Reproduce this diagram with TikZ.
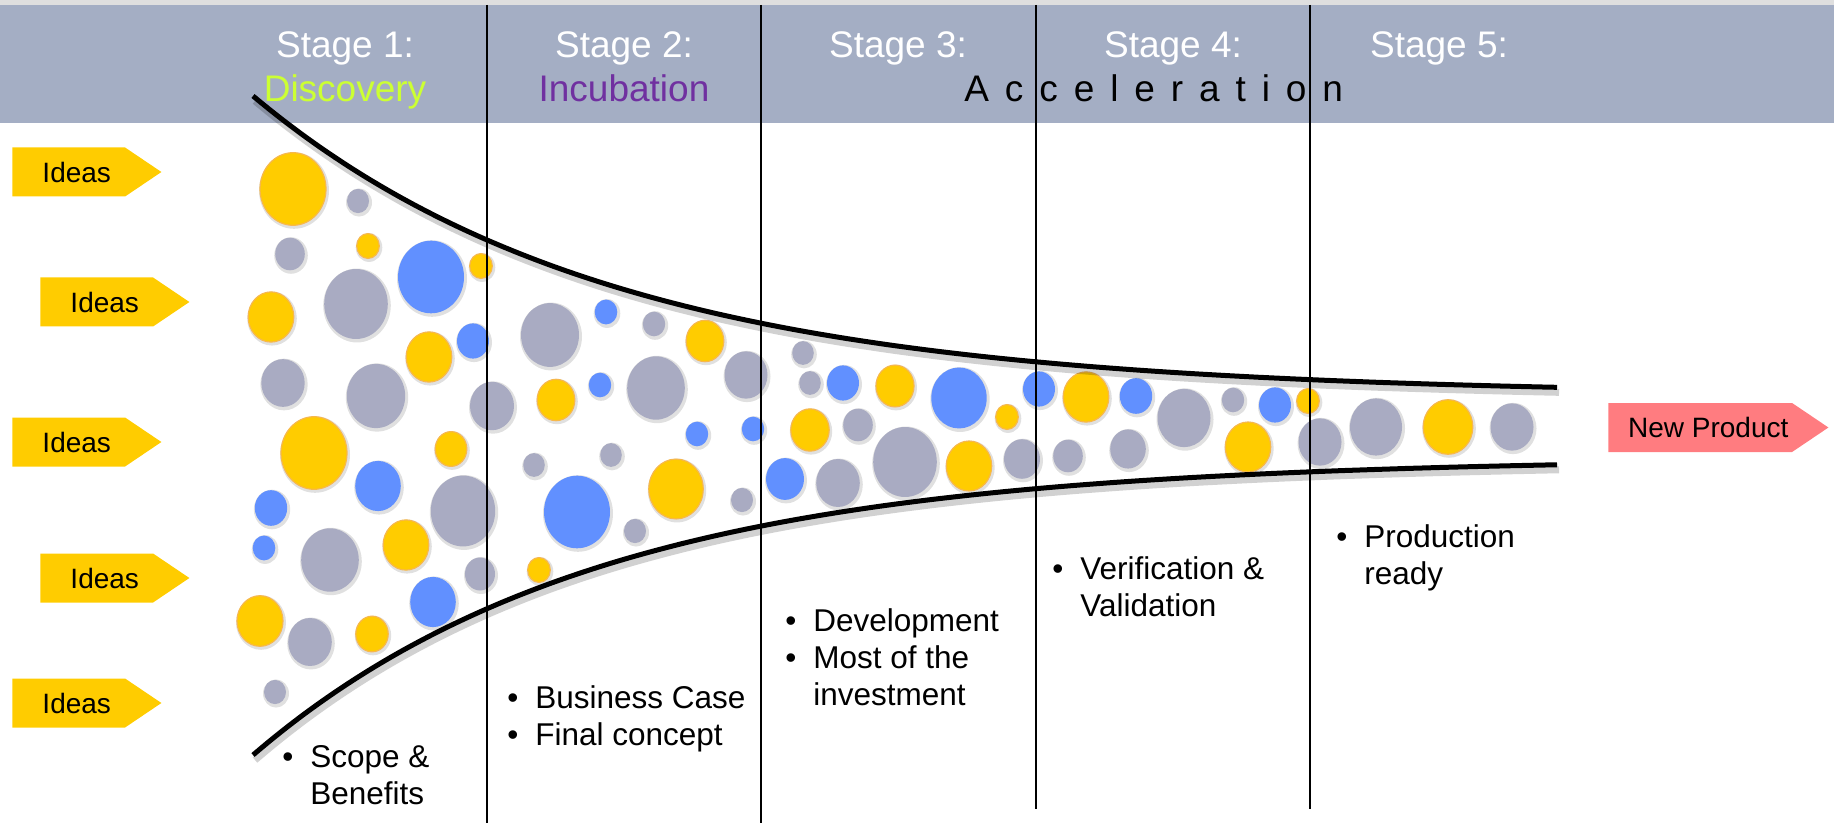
\documentclass[tikz,border=0pt]{standalone}
\usepackage{fontspec}
\setmainfont{Liberation Sans}
\usetikzlibrary{shapes.symbols}

\definecolor{band}{HTML}{A4AEC4}
\definecolor{discovery}{HTML}{CCFF33}
\definecolor{incubation}{HTML}{7030A0}
\definecolor{ideayellow}{HTML}{FFCC00}
\definecolor{productred}{HTML}{FF7C80}
\definecolor{bubrim}{HTML}{F7B84B}
\definecolor{bubgray}{HTML}{A9ABC2}
\definecolor{bubblue}{HTML}{6190FF}

\newcommand{\bul}{\textbullet}

\begin{document}
\begin{tikzpicture}[x=0.5pt, y=-0.5pt,
  stagehead/.style={anchor=base, inner sep=0pt, text=white, font=\fontsize{18.5}{20}\selectfont},
  ideas/.style={signal, signal to=east, signal pointer angle=68, fill=ideayellow, minimum width=74.5pt, minimum height=24.5pt, inner sep=0pt, anchor=west, font=\fontsize{14}{16}\selectfont, execute at begin node=\hspace*{8pt}},
  notes/.style={anchor=base west, inner sep=0pt, font=\fontsize{15.75}{18.7}\selectfont},
  stageline/.style={line width=0.75pt},
  funnel/.style={line width=2.5pt, preaction={draw=black, opacity=0.18, line width=3.5pt, transform canvas={shift={(1pt,-2.5pt)}}}},
  bubshadow/.style={fill=black, opacity=0.12},
  ybub/.style={fill=ideayellow, draw=bubrim, line width=0.6pt},
  gbub/.style={fill=bubgray},
  bbub/.style={fill=bubblue}]
\useasboundingbox (0,0) rectangle (1834,823);

% header band
\fill[gray!25] (0,0) rectangle (1834,5);
\fill[band] (0,5) rectangle (1834,123);

\node[stagehead] (st1) at (345,58) {Stage 1:};
\node[stagehead, text=discovery] (ph1) at (345,102) {Discovery};
\node[stagehead] (st2) at (624,58) {Stage 2:};
\node[stagehead, text=incubation] (ph2) at (624,102) {Incubation};
\node[stagehead] (st3) at (898,58) {Stage 3:};
\node[stagehead] (st4) at (1173,58) {Stage 4:};
\node[stagehead] (st5) at (1439,58) {Stage 5:};
\node[stagehead, anchor=base west, text=black] (ph3) at (964,102) {\addfontfeature{LetterSpace=43}Acceleration};

% ideas going in
\node[ideas] (i1) at (12,172) {Ideas};
\node[ideas] (i2) at (40,302) {Ideas};
\node[ideas] (i3) at (12,442) {Ideas};
\node[ideas] (i4) at (40,578) {Ideas};
\node[ideas] (i5) at (12,703) {Ideas};
\node[ideas, fill=productred, minimum width=110pt] (np) at (1608,427.5) {New Product};

% bubbles
\foreach \x/\y/\r in {293/189/33, 368/246/11.3, 481/266/11.3, 271/317/22.8, 429/357/22.8, 314/453/33, 451/449/15.8, 406/545/22.8, 260/621/23, 372/634/16.2, 705/341/18.8, 556/400/18.8, 676/489/27.2, 539/570/11.3, 895/386/19, 1007/417/11.3, 810/430/19.2, 969/466/22.7, 1086/397/22.8, 1308/401/11.3, 1248/447/22.7, 1448/427/24.8} {
  \fill[bubshadow] (\x+1,\y+1.5) ellipse [x radius=\r+2, y radius=1.1*\r+2];
  \filldraw[ybub] (\x,\y) ellipse [x radius=\r, y radius=1.1*\r];
}
\foreach \x/\y/\r in {358/201/11, 290/254/14.8, 356/304/31.8, 283/383/21.7, 376/396/29.2, 492/406/22, 463/511/32.2, 330/560/28.8, 480/574/15, 310/642/21.8, 275/692/11, 550/335/29, 654/324/11.2, 656/388/28.8, 746/375/21.5, 534/465/10.8, 611/455/10.8, 635/531/11, 742/500/11, 803/353/10.8, 810/383/10.8, 858/425/14.8, 905/462/31.8, 1022/459/18, 838/483/21.8, 1184/418/26.5, 1233/400/11.2, 1068/456/14.8, 1128/449/17.8, 1320/442/21.5, 1376/427/26, 1512/427/21.5} {
  \fill[bubshadow] (\x+1,\y+1.5) ellipse [x radius=\r+2, y radius=1.1*\r+2];
  \fill[gbub] (\x,\y) ellipse [x radius=\r, y radius=1.1*\r];
}
\foreach \x/\y/\r in {431/277/33, 473/341/16, 378/486/22.8, 271/508/16.2, 264/548/11.3, 433/602/22.8, 606/312/11.3, 600/385/11.2, 697/434/11.2, 753/429/11.2, 577/512/33, 843/383/16, 959/398/27.7, 1039/389/16, 785/479/19, 1136/396/16.2, 1275/405/16} {
  \fill[bubshadow] (\x+1,\y+1.5) ellipse [x radius=\r+2, y radius=1.1*\r+2];
  \fill[bbub] (\x,\y) ellipse [x radius=\r, y radius=1.1*\r];
}

% funnel walls
\draw[funnel] plot[domain=253:1557, samples=80, smooth] (\x, {395-299*exp(-0.0028*(\x-253))});
\draw[funnel] plot[domain=253:1557, samples=80, smooth] (\x, {458+297*exp(-0.0029*(\x-253))});

% stage borders
\foreach \x/\yb in {487/823, 761/823, 1036/809, 1310/809}
  \draw[stageline] (\x,5) -- (\x,\yb);

% what each stage delivers
\node[notes] (n1) at (282,767) {\begin{tabular}[t]{@{}p{14pt}@{}l@{}}\bul & Scope \&\\ & Benefits\end{tabular}};
\node[notes] (n2) at (507,708) {\begin{tabular}[t]{@{}p{14pt}@{}l@{}}\bul & Business Case\\ \bul & Final concept\end{tabular}};
\node[notes] (n3) at (785,631) {\begin{tabular}[t]{@{}p{14pt}@{}l@{}}\bul & Development\\ \bul & Most of the\\ & investment\end{tabular}};
\node[notes] (n4) at (1052,579) {\begin{tabular}[t]{@{}p{14pt}@{}l@{}}\bul & Verification \&\\ & Validation\end{tabular}};
\node[notes] (n5) at (1336,547) {\begin{tabular}[t]{@{}p{14pt}@{}l@{}}\bul & Production\\ & ready\end{tabular}};
\end{tikzpicture}
\end{document}
